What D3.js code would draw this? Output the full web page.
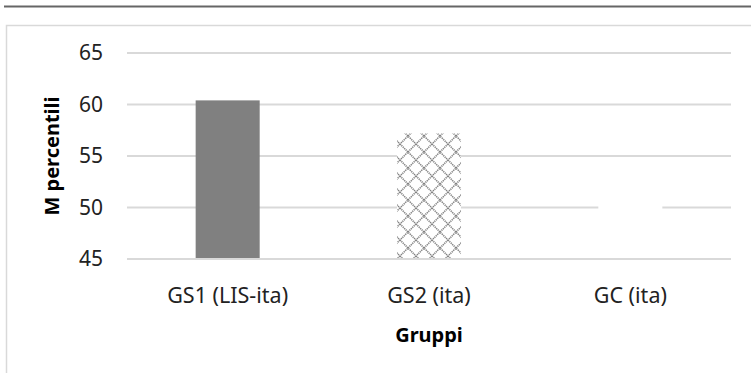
<!DOCTYPE html>
<html>
<head>
<meta charset="utf-8">
<script src="https://cdn.jsdelivr.net/npm/d3@7"></script>
<style>
  html, body { margin: 0; padding: 0; background: #fff; }
  svg { display: block; }
</style>
</head>
<body>
<svg id="chart" width="751" height="373"></svg>
<script>
// Mean percentile per group
const categories = ["GS1 (LIS-ita)", "GS2 (ita)", "GC (ita)"];
const values = [60.4, 57.2, 53.0];
const yTicks = [45, 50, 55, 60, 65];
const fills = ["solid", "cross", "white"];

const svg = d3.select("#chart");
const font = "'Noto Sans', 'DejaVu Sans', sans-serif";

// Hatched fill for the second group
const defs = svg.append("defs");
const pat = defs.append("pattern")
  .attr("id", "crossHatch")
  .attr("patternUnits", "userSpaceOnUse")
  .attr("width", 16).attr("height", 16);
pat.append("rect").attr("width", 16).attr("height", 16).attr("fill", "#fff");
pat.append("path")
  .attr("d", "M0,0 L16,16 M16,0 L0,16 M-1,15 L1,17 M15,-1 L17,1 M-1,1 L1,-1 M15,17 L17,15")
  .attr("stroke", "#7f7f7f").attr("stroke-width", 1.6).attr("stroke-dasharray", "1.2,0.8");

// Page rule above the chart and the chart frame
svg.append("line").attr("x1", 4).attr("x2", 751).attr("y1", 6.5).attr("y2", 6.5)
  .attr("stroke", "#666").attr("stroke-width", 2);
svg.append("path").attr("d", "M751,25.5 H6.5 V373")
  .attr("fill", "none").attr("stroke", "#d9d9d9").attr("stroke-width", 1.5);

const x = d3.scaleBand().domain(categories).range([127, 731])
  .paddingInner(0.682).paddingOuter(0.341);
const y = d3.scaleLinear().domain([45, 65]).range([259, 53]);

// Gridlines
svg.append("g").selectAll("line").data(yTicks).join("line")
  .attr("x1", 127).attr("x2", 731)
  .attr("y1", d => y(d)).attr("y2", d => y(d))
  .attr("stroke", "#d9d9d9").attr("stroke-width", 1.8);

// Bars
svg.append("g").selectAll("rect").data(categories).join("rect")
  .attr("x", d => x(d))
  .attr("width", x.bandwidth())
  .attr("y", (d, i) => y(values[i]))
  .attr("height", (d, i) => y(45) - y(values[i]) - 1)
  .attr("fill", (d, i) => fills[i] === "solid" ? "#808080" : fills[i] === "cross" ? "url(#crossHatch)" : "#fff");

// Y axis labels
const yAxis = d3.axisLeft(y).tickValues(yTicks).tickSize(0).tickPadding(0);
const gy = svg.append("g").attr("transform", "translate(103,0)").call(yAxis);
gy.select(".domain").remove();
gy.selectAll("text").attr("font-family", font).attr("font-size", 21).attr("fill", "#222");

// X axis labels
const xAxis = d3.axisBottom(x).tickSize(0).tickPadding(0);
const gx = svg.append("g").attr("transform", "translate(0,288)").call(xAxis);
gx.select(".domain").remove();
gx.selectAll("text").attr("font-family", font).attr("font-size", 21.5).attr("fill", "#222");

// Axis titles
svg.append("text").attr("x", 429).attr("y", 342).attr("text-anchor", "middle")
  .attr("font-family", font).attr("font-size", 20).attr("font-weight", "bold").attr("fill", "#000")
  .text("Gruppi");
svg.append("text").attr("transform", "translate(59,156) rotate(-90)").attr("text-anchor", "middle")
  .attr("font-family", font).attr("font-size", 20).attr("font-weight", "bold").attr("fill", "#000")
  .text("M percentili");
</script>
</body>
</html>
